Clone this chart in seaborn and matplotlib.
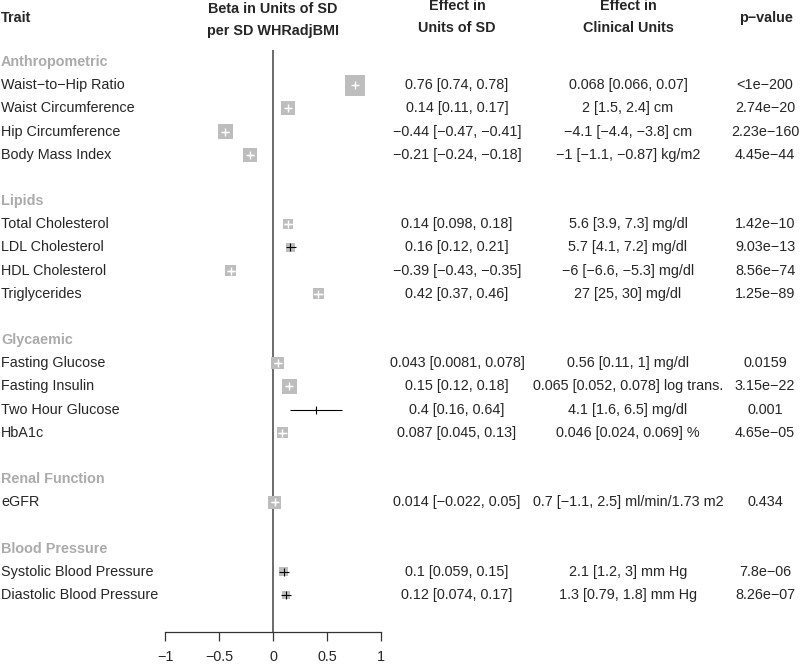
#librerias basicas
import numpy as np
import pandas as pd
import matplotlib.pyplot as plt
import matplotlib.transforms as mtransforms
import seaborn as sns

#grupos de rasgos y cantidad de rasgos por grupo
grupos = ["Anthropometric", "Lipids", "Glycaemic", "Renal Function", "Blood Pressure"]
n_por_grupo = [4, 4, 4, 1, 2]

rasgos = [
    "Waist\u2212to\u2212Hip Ratio", "Waist Circumference", "Hip Circumference", "Body Mass Index",
    "Total Cholesterol", "LDL Cholesterol", "HDL Cholesterol", "Triglycerides",
    "Fasting Glucose", "Fasting Insulin", "Two Hour Glucose", "HbA1c",
    "eGFR",
    "Systolic Blood Pressure", "Diastolic Blood Pressure",
]

#efecto en unidades de SD
beta = [0.76, 0.14, -0.44, -0.21, 0.14, 0.16, -0.39, 0.42, 0.043, 0.15, 0.4, 0.087, 0.014, 0.1, 0.12]
beta_lo = [0.74, 0.11, -0.47, -0.24, 0.098, 0.12, -0.43, 0.37, 0.0081, 0.12, 0.16, 0.045, -0.022, 0.059, 0.074]
beta_hi = [0.78, 0.17, -0.41, -0.18, 0.18, 0.21, -0.35, 0.46, 0.078, 0.18, 0.64, 0.13, 0.05, 0.15, 0.17]
#error estandar estimado (define el tamaño de las cajas)
se = [0.0096, 0.014, 0.014, 0.014, 0.019, 0.021, 0.018, 0.019, 0.016, 0.013, 0.12, 0.019, 0.0152, 0.022, 0.0235]

#efecto en unidades clinicas
clin = [0.068, 2, -4.1, -1, 5.6, 5.7, -6, 27, 0.56, 0.065, 4.1, 0.046, 0.7, 2.1, 1.3]
clin_lo = [0.066, 1.5, -4.4, -1.1, 3.9, 4.1, -6.6, 25, 0.11, 0.052, 1.6, 0.024, -1.1, 1.2, 0.79]
clin_hi = [0.07, 2.4, -3.8, -0.87, 7.3, 7.2, -5.3, 30, 1, 0.078, 6.5, 0.069, 2.5, 3, 1.8]
unidades = ["", "cm", "cm", "kg/m2", "mg/dl", "mg/dl", "mg/dl", "mg/dl",
            "mg/dl", "log trans.", "mg/dl", "%", "ml/min/1.73 m2", "mm Hg", "mm Hg"]

pvalores = ["<1e\u2212200", "2.74e\u221220", "2.23e\u2212160", "4.45e\u221244",
            "1.42e\u221210", "9.03e\u221213", "8.56e\u221274", "1.25e\u221289",
            "0.0159", "3.15e\u221222", "0.001", "4.65e\u221205",
            "0.434",
            "7.8e\u221206", "8.26e\u221207"]

#formato de numeros estilo R
def fmt(x):
    return format(x, ".2g").replace("-", "\u2212")

#armamos la tabla con la fila de cada rasgo
filas = []
fila_grupo = []
r = 0
for g, n in zip(grupos, n_por_grupo):
    fila_grupo.append(r)
    for i in range(n):
        filas.append(r + 1 + i)
    r += n + 2

df = pd.DataFrame({
    "rasgo": rasgos, "fila": filas, "beta": beta, "lo": beta_lo, "hi": beta_hi, "se": se,
})
px_por_unidad = 108.0
df["caja_px"] = 0.2 / df["se"]
df["ci_px"] = (df["hi"] - df["lo"]) * px_por_unidad
df["blanca"] = df["ci_px"] <= df["caja_px"]

#figura
sns.set_theme(style="white")
plt.rcParams["font.family"] = ["Liberation Sans", "DejaVu Sans"]
fs = 10.4

fig = plt.figure(figsize=(8, 6.64), dpi=100)
ax = fig.add_axes([165 / 800, 0, 216 / 800, 1])
ax.set_xlim(-1, 1)
ax.set_ylim(25.98, -2.676)
ax.patch.set_alpha(0)

#linea del cero
ax.vlines(0, -0.5, 24.6, color="#6a6a6a", lw=1.4, zorder=1)

#intervalos en negro (los que salen de la caja)
negros = df[~df["blanca"]]
ax.hlines(negros["fila"], negros["lo"], negros["hi"], color="black", lw=0.8, zorder=4)
ax.plot(negros["beta"], negros["fila"], marker="|", ls="none", color="black", ms=5.5, mew=0.8, zorder=4)

#cajas
sns.scatterplot(x=df["beta"], y=df["fila"], marker="s", color="#bdbdbd",
                s=(df["caja_px"] * 0.72) ** 2, linewidth=0, ax=ax, zorder=3, legend=False)

#intervalos en blanco dentro de la caja
blancos = df[df["blanca"]]
ax.hlines(blancos["fila"], blancos["lo"], blancos["hi"], color="white", lw=1.0, zorder=4)
ax.plot(blancos["beta"], blancos["fila"], marker="+", ls="none", color="white", ms=5.5, mew=1.0, zorder=4)

#eje x estilo R
for s in ["left", "top", "right"]:
    ax.spines[s].set_visible(False)
ax.spines["bottom"].set_position(("data", 24.6))
ax.spines["bottom"].set_bounds(-1, 1)
ax.spines["bottom"].set_color("#333333")
ax.spines["bottom"].set_linewidth(0.9)
ax.set_xticks([-1, -0.5, 0, 0.5, 1])
ax.set_xticklabels(["\u22121", "\u22120.5", "0", "0.5", "1"], fontsize=fs)
ax.tick_params(axis="x", bottom=True, length=6.5, width=0.9, color="#333333", pad=6.5)
ax.set_yticks([])
ax.set_xlabel("")
ax.set_ylabel("")

#textos de la tabla
tr = mtransforms.blended_transform_factory(fig.transFigure, ax.transData)
for g, f in zip(grupos, fila_grupo):
    ax.text(1 / 800, f, g, transform=tr, ha="left", va="center", fontsize=fs,
            fontweight="bold", color="#ababab")

for i in range(len(rasgos)):
    f = filas[i]
    ax.text(1 / 800, f, rasgos[i], transform=tr, ha="left", va="center", fontsize=fs)
    txt_sd = f"{fmt(beta[i])} [{fmt(beta_lo[i])}, {fmt(beta_hi[i])}]"
    ax.text(457 / 800, f, txt_sd, transform=tr, ha="center", va="center", fontsize=fs)
    txt_cl = f"{fmt(clin[i])} [{fmt(clin_lo[i])}, {fmt(clin_hi[i])}]"
    if unidades[i]:
        txt_cl += " " + unidades[i]
    ax.text(628 / 800, f, txt_cl, transform=tr, ha="center", va="center", fontsize=fs)
    ax.text(765 / 800, f, pvalores[i], transform=tr, ha="center", va="center", fontsize=fs)

#encabezados
fig.text(1 / 800, 1 - 18 / 664, "Trait", ha="left", va="center", fontsize=fs, fontweight="bold")
fig.text(273 / 800, 1 - 20 / 664, "Beta in Units of SD\nper SD WHRadjBMI", ha="center", va="center",
         fontsize=fs, fontweight="bold", linespacing=1.65)
fig.text(457 / 800, 1 - 17 / 664, "Effect in\nUnits of SD", ha="center", va="center",
         fontsize=fs, fontweight="bold", linespacing=1.65)
fig.text(628 / 800, 1 - 17 / 664, "Effect in\nClinical Units", ha="center", va="center",
         fontsize=fs, fontweight="bold", linespacing=1.65)
fig.text(766 / 800, 1 - 18 / 664, "p\u2212value", ha="center", va="center", fontsize=fs, fontweight="bold")

fig.savefig("out.png", dpi=100)
